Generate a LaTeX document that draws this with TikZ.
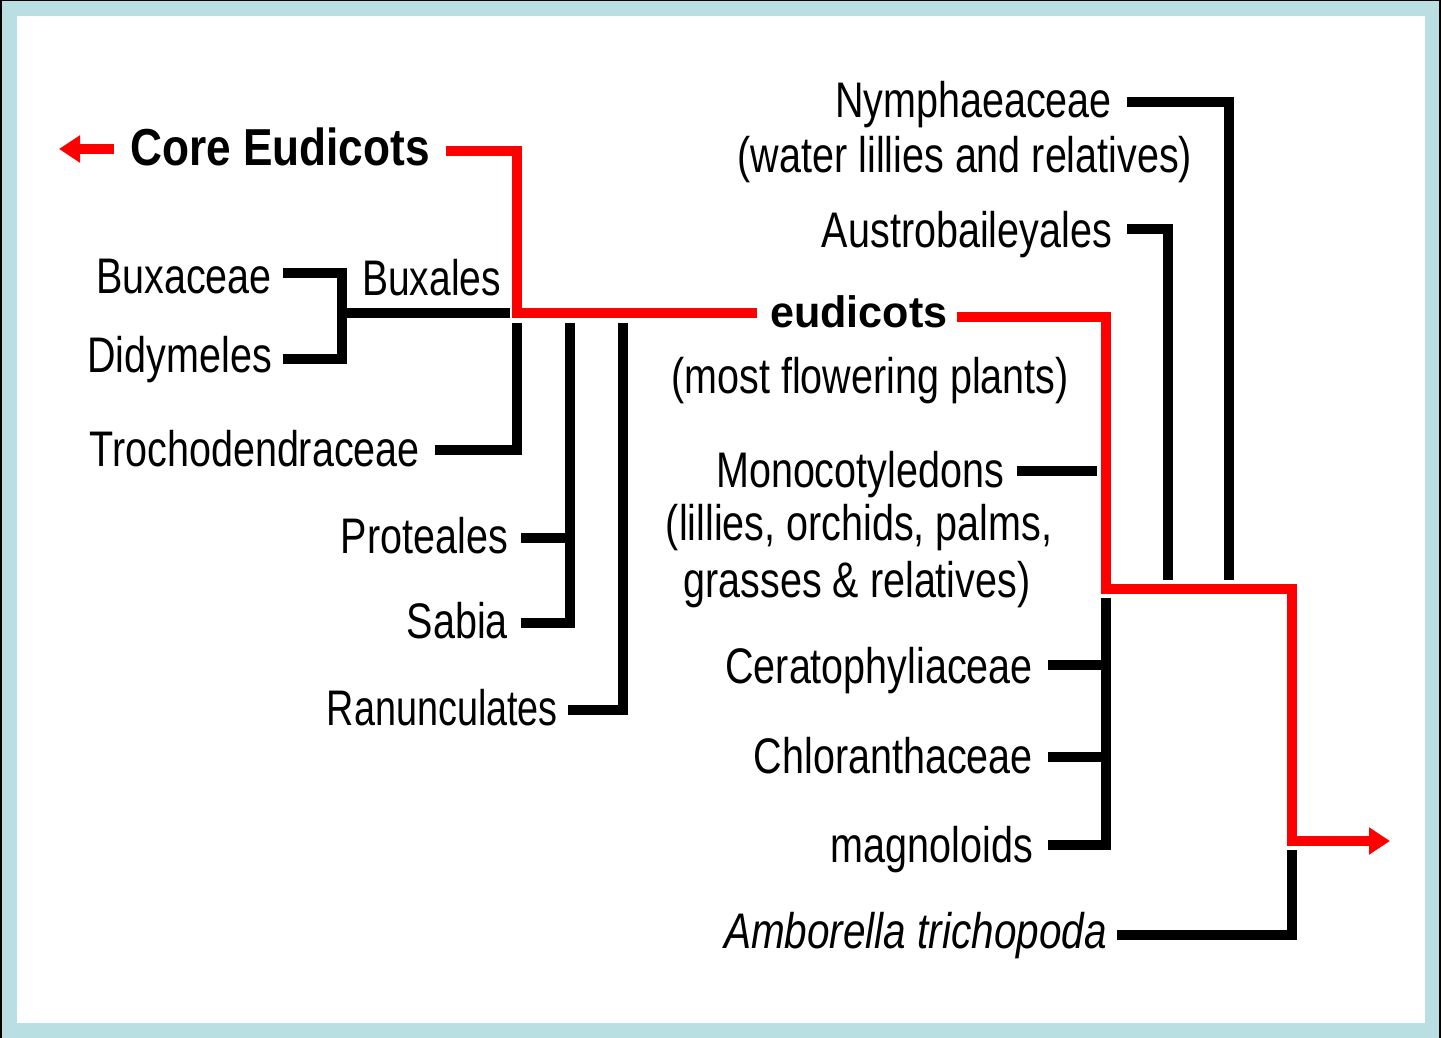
\documentclass[tikz,border=0pt]{standalone}
\usepackage{fontspec}
\setmainfont{Liberation Sans}
\usetikzlibrary{arrows.meta}
\definecolor{frameblue}{RGB}{185,223,226}
\definecolor{tred}{RGB}{255,0,0}
\newcommand{\nw}[1]{\scalebox{0.79}[1]{#1}}
\begin{document}
\begin{tikzpicture}[x=1pt,y=-1pt,
  lbl/.style={inner sep=0pt, font=\fontsize{50}{58}\selectfont},
  big/.style={inner sep=0pt, font=\fontsize{52}{60}\selectfont\bfseries},
  mid/.style={inner sep=0pt, font=\fontsize{44}{52}\selectfont\bfseries},
  blk/.style={line width=10pt, black, line join=miter},
  redl/.style={line width=10pt, tred, line join=miter},
  redarr/.style={redl, -{Triangle[length=21pt,width=26pt]}}]
\useasboundingbox (0,0) rectangle (1441,1038);
% frame
\fill[black] (0,0) rectangle (1441,1038);
\fill[frameblue] (2,1) rectangle (1439,1038);
\fill[white] (17,16) rectangle (1425,1023);

% labels
\node[big, anchor=base west] (core) at (130,166) {\scalebox{0.85}[1]{Core Eudicots}};
\node[lbl, anchor=base east] (buxaceae) at (272,293) {\nw{Buxaceae}};
\node[lbl, anchor=base west] (buxales) at (362,295) {\scalebox{0.78}[1]{Buxales}};
\node[lbl, anchor=base east] (didymeles) at (272,372) {\nw{Didymeles}};
\node[lbl, anchor=base east] (trocho) at (420,466) {\nw{Trochodendraceae}};
\node[lbl, anchor=base east] (proteales) at (508,553) {\nw{Proteales}};
\node[lbl, anchor=base east] (sabia) at (508,638) {\nw{Sabia}};
\node[lbl, anchor=base east] (ranunc) at (558,725) {\scalebox{0.755}[1]{Ranunculates}};
\node[mid, anchor=base west] (eudicots) at (770,327) {\scalebox{0.98}[1]{eudicots}};
\node[lbl, anchor=base] (mostfl) at (870,393) {\nw{(most flowering plants)}};
\node[lbl, anchor=base east] (nymph) at (1112,118) {\nw{Nymphaeaceae}};
\node[lbl, anchor=base] (water) at (965,172) {\nw{(water lillies and relatives)}};
\node[lbl, anchor=base east] (austro) at (1112,247) {\nw{Austrobaileyales}};
\node[lbl, anchor=base] (monocot) at (860,487) {\nw{Monocotyledons}};
\node[lbl, anchor=base] (lillies) at (859,540) {\nw{(lillies, orchids, palms,}};
\node[lbl, anchor=base] (grasses) at (857,597) {\nw{grasses \& relatives)}};
\node[lbl, anchor=base east] (cerato) at (1033,683) {\nw{Ceratophyliaceae}};
\node[lbl, anchor=base east] (chloran) at (1033,773) {\nw{Chloranthaceae}};
\node[lbl, anchor=base east] (magnol) at (1033,862) {\nw{magnoloids}};
\node[lbl, anchor=base east] (ambor) at (1107,948) {\scalebox{0.81}[1]{\itshape Amborella trichopoda}};

% coordinates
\coordinate (coreArrS) at (114,149);
\coordinate (coreArrT) at (59,149);
\coordinate (coreS) at (446,151);
\coordinate (coreK) at (517,151);
\coordinate (rootE) at (517,313);
\coordinate (eudL) at (757,313);
\coordinate (eudR) at (957,317);
\coordinate (eudK) at (1106,317);
\coordinate (angL) at (1106,589);
\coordinate (angR) at (1292,589);
\coordinate (ambJ) at (1292,841);
\coordinate (outTip) at (1390,841);

\coordinate (buxaS) at (283,273);
\coordinate (buxaK) at (342,273);
\coordinate (didyK) at (342,359);
\coordinate (didyS) at (283,359);
\coordinate (buxJ) at (342,313);
\coordinate (buxE) at (510,313);
\coordinate (trochS) at (435,450);
\coordinate (trochK) at (517,450);
\coordinate (trochT) at (517,323);
\coordinate (protS) at (521,538);
\coordinate (protK) at (570,538);
\coordinate (psT) at (570,323);
\coordinate (sabK) at (570,623);
\coordinate (sabS) at (521,623);
\coordinate (ranS) at (568,710);
\coordinate (ranK) at (623,710);
\coordinate (ranT) at (623,323);
\coordinate (nymS) at (1127,102);
\coordinate (nymK) at (1229,102);
\coordinate (nymT) at (1229,580);
\coordinate (ausS) at (1127,229);
\coordinate (ausK) at (1168,229);
\coordinate (ausT) at (1168,580);
\coordinate (monS) at (1017,471);
\coordinate (monE) at (1097,471);
\coordinate (cerS) at (1048,665);
\coordinate (cerK) at (1106,665);
\coordinate (chlS) at (1048,757);
\coordinate (chlK) at (1106,757);
\coordinate (magT) at (1106,598);
\coordinate (magK) at (1106,845);
\coordinate (magS) at (1048,845);
\coordinate (ambS) at (1117,935);
\coordinate (ambK) at (1292,935);
\coordinate (ambT) at (1292,850);

% black connectors
\draw[blk] (buxaS) -- (buxaK) -- (didyK) -- (didyS);
\draw[blk] (buxJ) -- (buxE);
\draw[blk] (trochS) -- (trochK) -- (trochT);
\draw[blk] (protS) -- (protK);
\draw[blk] (psT) -- (sabK) -- (sabS);
\draw[blk] (ranS) -- (ranK) -- (ranT);
\draw[blk] (nymS) -- (nymK) -- (nymT);
\draw[blk] (ausS) -- (ausK) -- (ausT);
\draw[blk] (monS) -- (monE);
\draw[blk] (cerS) -- (cerK);
\draw[blk] (chlS) -- (chlK);
\draw[blk] (magT) -- (magK) -- (magS);
\draw[blk] (ambS) -- (ambK) -- (ambT);

% red connectors
\draw[redarr] (coreArrS) -- (coreArrT);
\draw[redl] (coreS) -- (coreK) -- (rootE) -- (eudL);
\draw[redarr] (eudR) -- (eudK) -- (angL) -- (angR) -- (ambJ) -- (outTip);
\end{tikzpicture}
\end{document}
